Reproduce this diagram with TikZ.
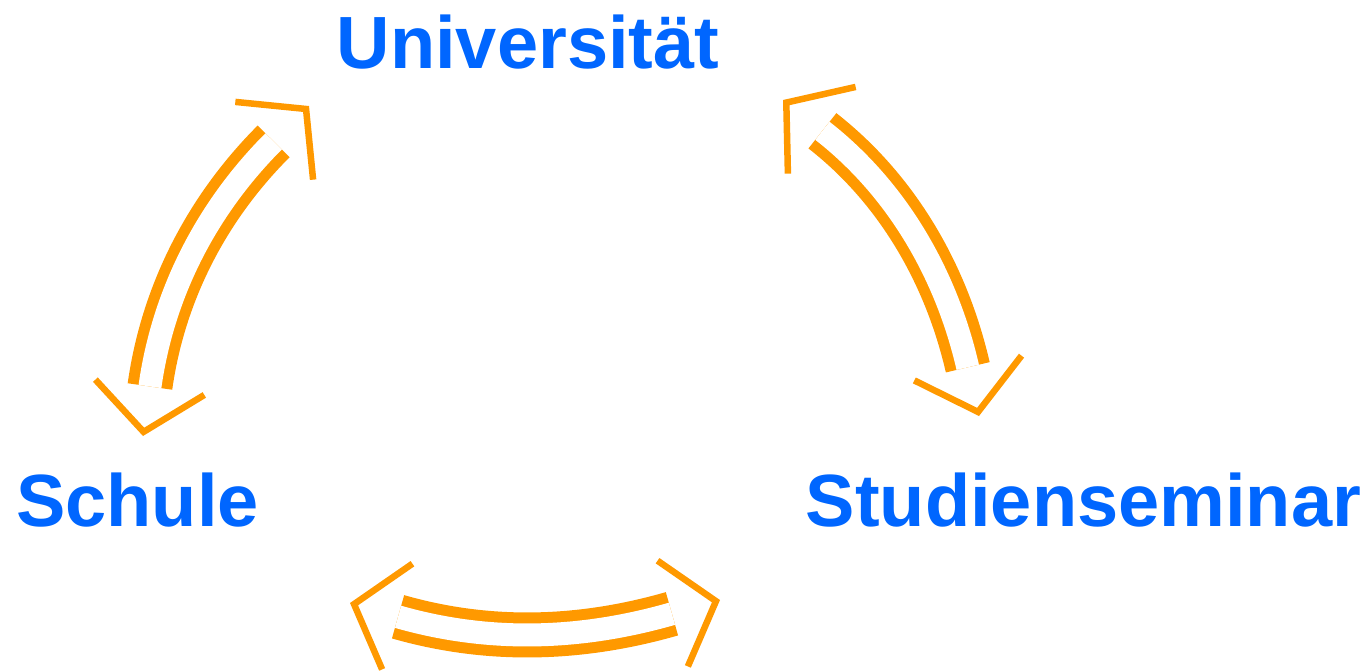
\documentclass[tikz,border=0pt]{standalone}
\usepackage{fontspec}
\setmainfont{Liberation Sans}
\usetikzlibrary{arrows.meta}
\definecolor{placeblue}{RGB}{0,102,255}
\definecolor{linkorange}{RGB}{255,153,0}
\tikzstyle{place}=[anchor=base,text=placeblue,font=\fontsize{74}{80}\selectfont\bfseries,inner sep=0pt]
\tikzstyle{link}=[draw=linkorange,line width=11pt,double=white,double distance=23pt,shorten >=50pt,shorten <=50pt]
\tikzstyle{heads}=[draw=white,line width=0.5pt,
  >={Straight Barb[color=linkorange,length=45pt,width=110pt,line width=6.5pt]},<->]

\begin{document}
\begin{tikzpicture}[x=1pt,y=1pt]
    \useasboundingbox (0,0) rectangle (1369,-670);
    \node[place] (uni) at (528,-68)  {Universität};
    \node[place] (schule) at (137.5,-526) {Schule};
    \node[place] (seminar) at (1083.5,-526) {Studienseminar};

    % tips of the double arrows
    \coordinate (su) at (143,-436);
    \coordinate (us) at (309,-106);
    \coordinate (um) at (783,-100);
    \coordinate (mu) at (979,-416);
    \coordinate (sm) at (350,-603);
    \coordinate (ms) at (720,-600);

    \foreach \from/\to/\out/\in in {su/us/82/225,um/mu/322/103,sm/ms/344/196}{
    \draw[heads] (\from) to[out=\out,in=\in] (\to);
    \draw[link] (\from) to[out=\out,in=\in] (\to);
    }
\end{tikzpicture}
\end{document}
